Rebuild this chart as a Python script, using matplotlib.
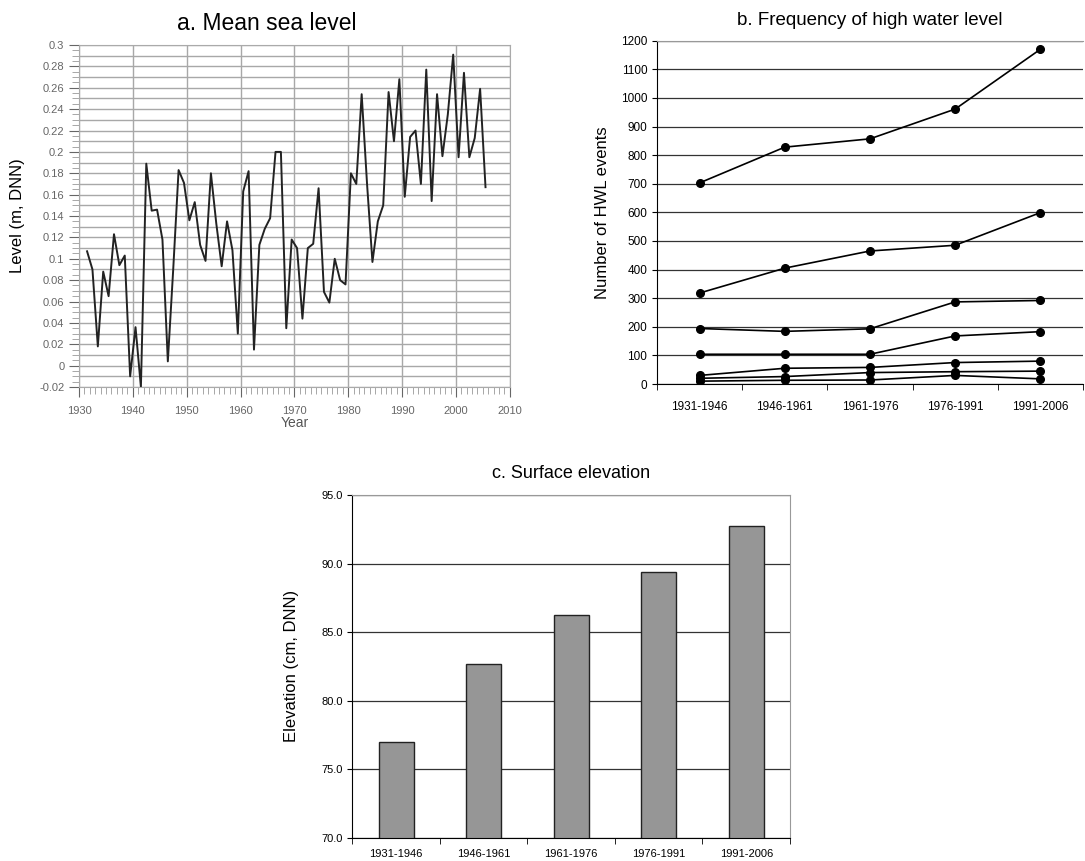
import numpy as np
import matplotlib
matplotlib.use("Agg")
import matplotlib.pyplot as plt
from matplotlib.ticker import MultipleLocator

plt.rcParams['font.family'] = ['Liberation Sans', 'DejaVu Sans']

# a. mean sea level (m, DNN), yearly
years = list(range(1931, 2006))
msl = [0.107, 0.09, 0.018, 0.088, 0.065, 0.123, 0.094, 0.103, -0.01, 0.036,
       -0.02, 0.189, 0.145, 0.146, 0.118, 0.004, 0.09, 0.183, 0.171, 0.136,
       0.153, 0.113, 0.098, 0.18, 0.133, 0.093, 0.135, 0.108, 0.03, 0.163,
       0.182, 0.015, 0.113, 0.128, 0.138, 0.2, 0.2, 0.035, 0.118, 0.11,
       0.044, 0.11, 0.114, 0.166, 0.069, 0.059, 0.1, 0.08, 0.076, 0.18,
       0.17, 0.254, 0.17, 0.097, 0.135, 0.15, 0.256, 0.21, 0.268, 0.158,
       0.214, 0.22, 0.17, 0.277, 0.154, 0.254, 0.196, 0.235, 0.291, 0.195,
       0.274, 0.195, 0.213, 0.259, 0.167]

# b. frequency of high water level
periods = ["1931-1946", "1946-1961", "1961-1976", "1976-1991", "1991-2006"]
hwl1 = [703, 828, 857, 961, 1170]
hwl2 = [318, 405, 465, 485, 599]
hwl3 = [194, 184, 193, 287, 292]
hwl4 = [104, 104, 104, 168, 183]
hwl5 = [30, 55, 58, 75, 80]
hwl6 = [20, 26, 40, 43, 45]
hwl7 = [10, 13, 14, 30, 18]

# c. surface elevation (cm, DNN)
elev = [77.0, 82.65, 86.25, 89.4, 92.75]

fig = plt.figure(figsize=(10.85, 8.61), dpi=100)

# ---- panel a
ax1 = fig.add_axes([0.0728, 0.5505, 0.397, 0.3972])
ax1.plot(np.array(years) + 0.5, msl, color='#222222', lw=1.4)
ax1.set_xlim(1930, 2010)
ax1.set_ylim(-0.02, 0.3)
ax1.set_xticks(range(1930, 2011, 10))
ax1.xaxis.set_minor_locator(MultipleLocator(1))
ax1.set_yticks(np.arange(-0.02, 0.301, 0.02))
ax1.set_yticklabels(['%g' % round(v, 2) for v in np.arange(-0.02, 0.301, 0.02)])
ax1.yaxis.set_minor_locator(MultipleLocator(0.005))
for v in np.arange(-0.02, 0.301, 0.01):
    ax1.axhline(v, color='#a8a8a8', lw=1.0, zorder=0)
ax1.grid(axis='x', color='#a8a8a8', lw=1.0)
ax1.set_axisbelow(True)
ax1.tick_params(labelsize=8, colors='#666666', length=7)
ax1.tick_params(axis='x', pad=7)
ax1.tick_params(which='minor', length=5, colors='#999999')
for s in ax1.spines.values():
    s.set_color('#aaaaaa')
ax1.set_xlabel("Year", fontsize=10, color='#555555', labelpad=0)
ax1.set_ylabel("Level (m, DNN)", fontsize=12, labelpad=10)
ax1.set_title("a. Mean sea level", fontsize=16.5, pad=11, x=0.436)

# ---- panel b
ax2 = fig.add_axes([0.6055, 0.554, 0.3926, 0.3987])
xb = np.arange(len(periods))
for s in [hwl1, hwl2, hwl3, hwl4, hwl5, hwl6, hwl7]:
    ax2.plot(xb, s, color='black', lw=1.2, marker='o', ms=5.5)
ax2.set_xlim(-0.5, 4.5)
ax2.set_ylim(0, 1200)
ax2.set_yticks(range(0, 1201, 100))
ax2.set_xticks(xb)
ax2.set_xticklabels(periods)
ax2.set_xticks(np.arange(-0.5, 4.6, 1), minor=True)
ax2.tick_params(axis='x', which='major', length=0, pad=12)
ax2.tick_params(axis='x', which='minor', length=4)
ax2.tick_params(labelsize=8.5)
ax2.grid(axis='y', color='#333333', lw=0.9)
ax2.set_axisbelow(True)
ax2.spines['right'].set_visible(False)
ax2.spines['top'].set_color('#999999')
ax2.set_ylabel("Number of HWL events", fontsize=12, labelpad=8)
ax2.set_title("b. Frequency of high water level", fontsize=13.5, pad=11)

# ---- panel c
ax3 = fig.add_axes([0.3247, 0.0271, 0.4034, 0.398])
xc = np.arange(len(periods))
ax3.bar(xc, elev, width=0.4, color='#969696', edgecolor='#222222', lw=1.0, zorder=2)
ax3.set_xlim(-0.5, 4.5)
ax3.set_ylim(70, 95)
ax3.set_yticks(np.arange(70, 95.1, 5))
ax3.set_yticklabels(['%.1f' % v for v in np.arange(70, 95.1, 5)])
ax3.set_xticks(xc)
ax3.set_xticklabels(periods)
ax3.set_xticks(np.arange(-0.5, 4.6, 1), minor=True)
ax3.tick_params(axis='x', which='major', length=0, pad=8)
ax3.tick_params(axis='x', which='minor', length=4)
ax3.tick_params(labelsize=8)
ax3.grid(axis='y', color='#333333', lw=0.9)
ax3.set_axisbelow(True)
ax3.spines['right'].set_color('#999999')
ax3.spines['top'].set_color('#999999')
ax3.set_ylabel("Elevation (cm, DNN)", fontsize=12, labelpad=16)
ax3.set_title("c. Surface elevation", fontsize=13, pad=12)

fig.savefig("out.png", dpi=100)
